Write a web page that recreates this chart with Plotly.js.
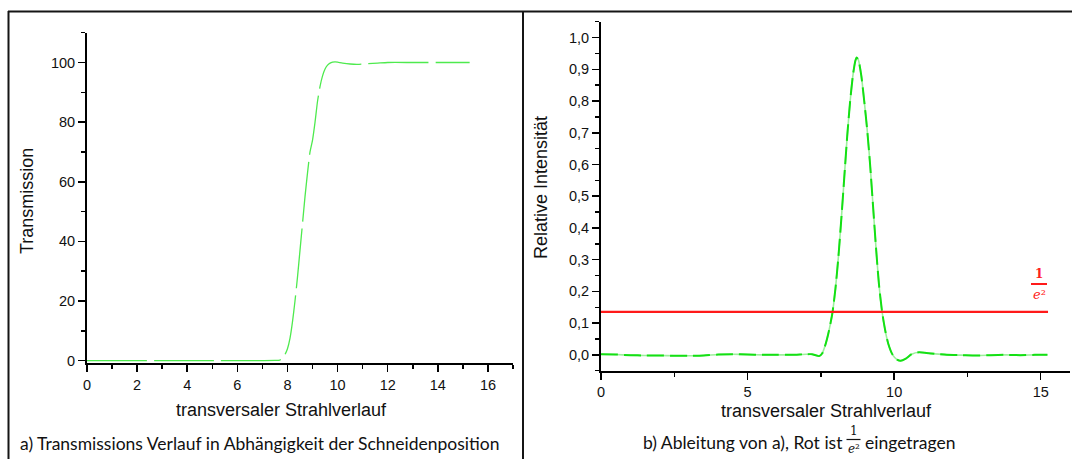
<!DOCTYPE html>
<html>
<head>
<meta charset="utf-8">
<script src="https://cdn.plot.ly/plotly-3.0.1.min.js"></script>
<style>html,body{margin:0;padding:0;background:#fff;}#chart{width:1072px;height:459px;}</style>
</head>
<body>
<div id="chart"></div>
<script>
// ---- Data: panel a) Transmission vs. knife-edge position ----
const transX = [0, 1, 2, 3, 4, 5, 6, 7, 7.5, 7.7, 7.8, 7.9, 8.0, 8.1, 8.2, 8.3, 8.4, 8.5, 8.6, 8.7, 8.8, 8.9, 9.0, 9.1, 9.2, 9.3, 9.4, 9.5, 9.6, 9.7, 9.8, 9.9, 10.0, 10.2, 10.5, 10.8, 11.2, 11.6, 12, 13, 14, 15.27];
const transY = [0, 0, 0, 0, 0, 0, 0, 0, 0.05, 0.2, 0.8, 2, 4, 7.5, 13, 20, 28, 37, 46, 55, 63, 70, 74, 80, 87, 92, 95.5, 97.8, 99.1, 99.8, 100.1, 100.2, 100.1, 99.8, 99.5, 99.4, 99.6, 99.8, 100, 100, 100, 100];

// ---- Data: panel b) derivative (relative intensity) ----
const derivX = [0, 0.5, 1, 1.5, 2, 2.5, 3, 3.5, 4, 4.5, 5, 5.5, 6, 6.5, 7, 7.2, 7.44, 7.55, 7.65, 7.75, 7.83, 7.9, 8.0, 8.1, 8.2, 8.3, 8.4, 8.5, 8.6, 8.68, 8.72, 8.78, 8.88, 8.98, 9.08, 9.18, 9.28, 9.38, 9.48, 9.59, 9.7, 9.8, 9.95, 10.1, 10.22, 10.4, 10.6, 10.85, 11.1, 11.4, 11.8, 12.3, 12.8, 13.3, 13.8, 14.3, 14.8, 15.23];
const derivY = [0.002, 0.001, -0.001, -0.002, -0.002, -0.003, -0.003, -0.002, 0.001, 0.002, 0.001, 0.0, 0.0, 0.0, 0.002, 0.002, -0.004, 0.005, 0.03, 0.065, 0.10, 0.135, 0.21, 0.31, 0.43, 0.56, 0.69, 0.80, 0.885, 0.928, 0.937, 0.93, 0.88, 0.80, 0.71, 0.60, 0.47, 0.34, 0.225, 0.135, 0.075, 0.035, 0.0, -0.015, -0.019, -0.012, 0.002, 0.008, 0.006, 0.003, 0.0, -0.001, -0.002, -0.001, 0.0, -0.001, 0.0, 0.0];

// ---- 1/e^2 reference line ----
const refX = [0, 15.25];
const refLevel = 0.1353;
const refY = [refLevel, refLevel];

// ---- Tick / text labels ----
const xTitle = 'transversaler Strahlverlauf';
const yTitleA = 'Transmission';
const yTitleB = 'Relative Intensität';
const captionA = 'a) Transmissions Verlauf in Abhängigkeit der Schneidenposition';
const captionB1 = 'b) Ableitung von a), Rot ist';
const captionB2 = 'eingetragen';

// pixel -> paper helpers
const W = 1072, H = 459;
const px = v => v / W;
const py = v => 1 - v / H;

const axisFont = {family: 'Liberation Sans, Arial, sans-serif', size: 14.5, color: '#111'};
const titleFont = {family: 'Liberation Sans, Arial, sans-serif', size: 18, color: '#111'};
const capFont = {family: 'Lato, Carlito, sans-serif', size: 17.5, color: '#111'};

const traces = [
  {x: transX, y: transY, xaxis: 'x', yaxis: 'y', type: 'scatter', mode: 'lines',
   line: {color: '#4eea4e', width: 1.3, dash: '60px,7px', shape: 'spline', smoothing: 0.6}, hoverinfo: 'skip'},
  {x: derivX, y: derivY, xaxis: 'x2', yaxis: 'y2', type: 'scatter', mode: 'lines',
   line: {color: '#9cf09c', width: 1.6, shape: 'spline', smoothing: 0.6}, hoverinfo: 'skip'},
  {x: derivX, y: derivY, xaxis: 'x2', yaxis: 'y2', type: 'scatter', mode: 'lines',
   line: {color: '#14e014', width: 2, dash: '17px,6px', shape: 'spline', smoothing: 0.6}, hoverinfo: 'skip'},
  {x: refX, y: refY, xaxis: 'x2', yaxis: 'y2', type: 'scatter', mode: 'lines',
   line: {color: '#ff1a1a', width: 2.2}, hoverinfo: 'skip'}
];

const baseAxis = {
  showline: true, linecolor: '#000', linewidth: 2, mirror: false,
  showgrid: false, zeroline: false,
  ticks: 'outside', ticklen: 7, tickwidth: 1.5, tickcolor: '#000',
  tickfont: axisFont, fixedrange: true
};

const layout = {
  width: W, height: H,
  margin: {l: 0, r: 0, t: 0, b: 0},
  paper_bgcolor: '#fff', plot_bgcolor: 'rgba(0,0,0,0)',
  showlegend: false,
  separators: ',.',
  xaxis: Object.assign({}, baseAxis, {
    domain: [px(87), px(513)], range: [0, 17], dtick: 2, tick0: 0,
    minor: {dtick: 1, ticklen: 4, tickwidth: 1.5, tickcolor: '#000', ticks: 'outside'},
    anchor: 'y'
  }),
  yaxis: Object.assign({}, baseAxis, {
    domain: [py(363.3), py(32.7)], range: [-0.9, 110], dtick: 20, tick0: 0,
    minor: {dtick: 10, ticklen: 4, tickwidth: 1.5, tickcolor: '#000', ticks: 'outside'},
    anchor: 'x'
  }),
  xaxis2: Object.assign({}, baseAxis, {
    domain: [px(601), px(1070)], range: [0, 16], dtick: 5, tick0: 0,
    minor: {dtick: 2.5, ticklen: 4, tickwidth: 1.5, tickcolor: '#000', ticks: 'outside'},
    anchor: 'y2'
  }),
  yaxis2: Object.assign({}, baseAxis, {
    domain: [py(370.7), py(21.7)], range: [-0.05, 1.05], dtick: 0.1, tick0: 0, tickformat: '.1f',
    minor: {dtick: 0.05, ticklen: 4, tickwidth: 1.5, tickcolor: '#000', ticks: 'outside'},
    anchor: 'x2'
  }),
  shapes: [
    // frame lines
    {type: 'line', xref: 'paper', yref: 'paper', x0: px(8), x1: 1, y0: py(11.5), y1: py(11.5), line: {color: '#151515', width: 2}},
    {type: 'line', xref: 'paper', yref: 'paper', x0: px(8.5), x1: px(8.5), y0: py(11), y1: 0, line: {color: '#151515', width: 2}},
    {type: 'line', xref: 'paper', yref: 'paper', x0: px(523), x1: px(523), y0: py(11), y1: 0, line: {color: '#151515', width: 2}},
    // fraction bar in caption b
    {type: 'line', xref: 'paper', yref: 'paper', x0: px(846.5), x1: px(860.5), y0: py(439.5), y1: py(439.5), line: {color: '#111', width: 1.2}},
    // fraction bar of red label
    {type: 'line', xref: 'paper', yref: 'paper', x0: px(1031), x1: px(1047), y0: py(284), y1: py(284), line: {color: '#ff1a1a', width: 2}}
  ],
  annotations: [
    {text: yTitleA, xref: 'paper', yref: 'paper', x: px(27), y: py(201), textangle: -90, showarrow: false,
     xanchor: 'center', yanchor: 'middle', font: titleFont},
    {text: xTitle, xref: 'paper', yref: 'paper', x: px(281), y: py(410), showarrow: false,
     xanchor: 'center', yanchor: 'middle', font: titleFont},
    {text: captionA, xref: 'paper', yref: 'paper', x: px(259.5), y: py(443), showarrow: false,
     xanchor: 'center', yanchor: 'middle', font: capFont},
    {text: yTitleB, xref: 'paper', yref: 'paper', x: px(541), y: py(188), textangle: -90, showarrow: false,
     xanchor: 'center', yanchor: 'middle', font: titleFont},
    {text: xTitle, xref: 'paper', yref: 'paper', x: px(826), y: py(411), showarrow: false,
     xanchor: 'center', yanchor: 'middle', font: titleFont},
    {text: captionB1, xref: 'paper', yref: 'paper', x: px(845), y: py(442), showarrow: false,
     xanchor: 'right', yanchor: 'middle', font: capFont},
    {text: '1', xref: 'paper', yref: 'paper', x: px(853.5), y: py(431), showarrow: false,
     xanchor: 'center', yanchor: 'middle', font: {family: 'DejaVu Serif, serif', size: 12, color: '#111'}},
    {text: '<i>e</i>²', xref: 'paper', yref: 'paper', x: px(853.5), y: py(448.5), showarrow: false,
     xanchor: 'center', yanchor: 'middle', font: {family: 'DejaVu Serif, serif', size: 12, color: '#111'}},
    {text: captionB2, xref: 'paper', yref: 'paper', x: px(863), y: py(442), showarrow: false,
     xanchor: 'left', yanchor: 'middle', font: capFont},
    // red 1/e^2 label
    {text: '<b>1</b>', xref: 'paper', yref: 'paper', x: px(1039), y: py(274), showarrow: false,
     xanchor: 'center', yanchor: 'middle', font: {family: 'DejaVu Serif, serif', size: 12, color: '#ff2020'}},
    {text: '<i>e</i>²', xref: 'paper', yref: 'paper', x: px(1039.5), y: py(294), showarrow: false,
     xanchor: 'center', yanchor: 'middle', font: {family: 'DejaVu Serif, serif', size: 13, color: '#ff2020'}}
  ]
};

Plotly.newPlot('chart', traces, layout, {displayModeBar: false, staticPlot: true});
</script>
</body>
</html>
